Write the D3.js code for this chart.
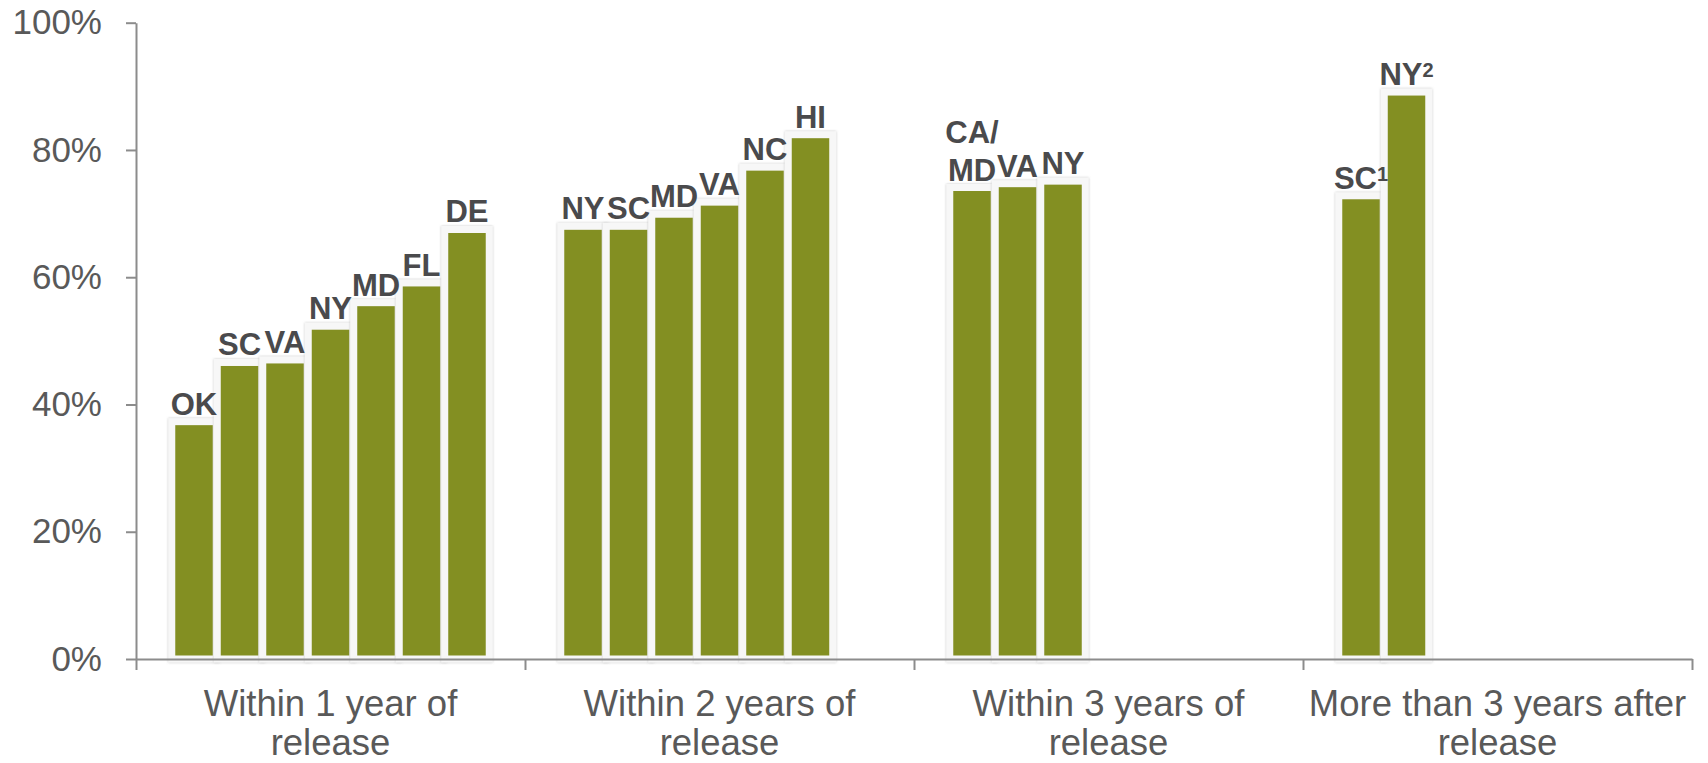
<!DOCTYPE html>
<html>
<head>
<meta charset="utf-8">
<script src="https://cdn.jsdelivr.net/npm/d3@7"></script>
<style>
  html, body { margin: 0; padding: 0; background: #ffffff; }
  svg { display: block; }
</style>
</head>
<body>
<svg id="chart" width="1708" height="763"></svg>
<script>
// Share of people (by state) reached within each period after release
const categories = ["within1", "within2", "within3", "over3"];
const categoryLines = [
  ["Within 1 year of", "release"],
  ["Within 2 years of", "release"],
  ["Within 3 years of", "release"],
  ["More than 3 years after", "release"]
];

const within1States = ["OK", "SC", "VA", "NY", "MD", "FL", "DE"];
const within1Values = [37.3, 46.6, 47.0, 52.3, 56.0, 59.1, 67.5];

const within2States = ["NY", "SC", "MD", "VA", "NC", "HI"];
const within2Values = [68.0, 68.0, 69.9, 71.8, 77.3, 82.4];

const within3States = ["CA/\nMD", "VA", "NY"];
const within3Values = [74.1, 74.7, 75.1];

const over3States = ["SC", "NY"];
const over3Notes = ["1", "2"];
const over3Values = [72.8, 89.1];

const yTicks = [0, 20, 40, 60, 80, 100];

const groups = [
  { key: "within1", states: within1States, values: within1Values },
  { key: "within2", states: within2States, values: within2Values },
  { key: "within3", states: within3States, values: within3Values },
  { key: "over3",   states: over3States,   values: over3Values, notes: over3Notes }
];

const bars = [];
groups.forEach(g => g.states.forEach((s, i) =>
  bars.push({ group: g.key, slot: i, state: s, value: g.values[i],
              note: g.notes ? g.notes[i] : null })));

const width = 1708, height = 763;
const margin = { top: 22.7, right: 16, bottom: 104, left: 136 };
const plotBottom = height - margin.bottom;   // y of 0%
const font = "'Liberation Sans', Arial, sans-serif";

const svg = d3.select("#chart");

const defs = svg.append("defs");
const f = defs.append("filter").attr("id", "rim")
  .attr("x", "-40%").attr("y", "-10%").attr("width", "180%").attr("height", "120%");
f.append("feDropShadow").attr("dx", 0).attr("dy", 0)
  .attr("stdDeviation", 1.3).attr("flood-color", "#8a8a8a").attr("flood-opacity", 0.5);

const x = d3.scaleBand()
  .domain(categories)
  .range([margin.left, width - margin.right])
  .padding(0);

const maxSlots = d3.max(groups, g => g.states.length);
const slot = d3.scaleBand()
  .domain(d3.range(maxSlots))
  .range([0, x.bandwidth()])
  .paddingInner(0.022)
  .paddingOuter(0.786);

const y = d3.scaleLinear().domain([0, 100]).range([plotBottom, margin.top]);

const cx = d => x(d.group) + slot(d.slot) + slot.bandwidth() / 2;

// Bars: green fill with a pale rim
const barG = svg.append("g");
barG.selectAll("rect")
  .data(bars)
  .join("rect")
  .attr("x", d => x(d.group) + slot(d.slot))
  .attr("y", d => y(d.value))
  .attr("width", slot.bandwidth())
  .attr("height", d => y(0) - y(d.value))
  .attr("fill", "#838f23")
  .attr("stroke", "#f7f7f7")
  .attr("stroke-width", 7)
  .attr("filter", "url(#rim)");

// State labels above the bars
const labelG = svg.append("g")
  .attr("font-family", font)
  .attr("font-weight", "bold")
  .attr("font-size", 31)
  .attr("fill", "#4a4a4c")
  .attr("text-anchor", "middle");

labelG.selectAll("text")
  .data(bars)
  .join("text")
  .attr("x", cx)
  .attr("y", d => y(d.value) - 7)
  .each(function(d) {
    const lines = d.state.split("\n");
    const t = d3.select(this);
    lines.forEach((ln, i) => {
      t.append("tspan")
        .attr("x", cx(d))
        .attr("dy", i === 0 ? -(lines.length - 1) * 37.6 : 37.6)
        .text(ln);
    });
    if (d.note) {
      t.append("tspan")
        .attr("font-size", 20)
        .attr("dy", -8)
        .text(d.note);
    }
  });

// Y axis
const yAxis = d3.axisLeft(y)
  .tickValues(yTicks)
  .tickFormat(d => d + "%")
  .tickSizeInner(10)
  .tickSizeOuter(0)
  .tickPadding(24);

const yG = svg.append("g")
  .attr("transform", `translate(${margin.left},0)`)
  .call(yAxis);
yG.selectAll("path, line").attr("stroke", "#8c8c8c").attr("stroke-width", 2);
yG.selectAll("text")
  .attr("font-family", font)
  .attr("font-size", 35)
  .attr("fill", "#595959");

// X axis: baseline with ticks at category boundaries
const bounds = d3.scaleLinear().domain([0, categories.length])
  .range([margin.left, width - margin.right]);
const xTickG = svg.append("g")
  .attr("transform", `translate(0,${plotBottom})`)
  .call(d3.axisBottom(bounds)
    .tickValues(d3.range(categories.length + 1))
    .tickFormat("")
    .tickSizeInner(11)
    .tickSizeOuter(0));
xTickG.selectAll("path, line").attr("stroke", "#8c8c8c").attr("stroke-width", 2);

// Category labels
const xLabelG = svg.append("g")
  .attr("transform", `translate(0,${plotBottom})`)
  .call(d3.axisBottom(x).tickSize(0).tickFormat(""));
xLabelG.select(".domain").remove();
xLabelG.selectAll(".tick").each(function(d, i) {
  const t = d3.select(this).append("text")
    .attr("font-family", font)
    .attr("font-size", 36.5)
    .attr("fill", "#595959")
    .attr("text-anchor", "middle")
    .attr("y", 56.5);
  categoryLines[i].forEach((ln, j) => {
    t.append("tspan").attr("x", 0).attr("dy", j === 0 ? 0 : 39.5).text(ln);
  });
});
</script>
</body>
</html>
